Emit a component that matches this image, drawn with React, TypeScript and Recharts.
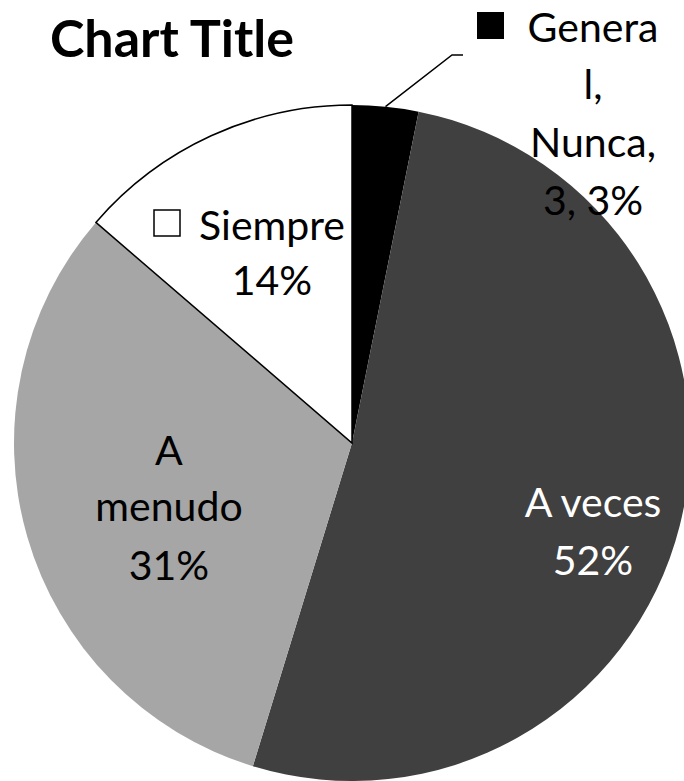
import React from "react";
import { PieChart, Pie, Cell, Customized } from "recharts";

const categories = ["General, Nunca", "A veces", "A menudo", "Siempre"];
const values = [3, 49, 30, 13];
const pctLabels = ["3%", "52%", "31%", "14%"];
const colors = ["#000000", "#404040", "#a6a6a6", "#ffffff"];
const chartTitle = "Chart Title";

const data = categories.map((name, i) => ({ name, value: values[i] }));

const FONT = "Lato, 'Open Sans', sans-serif";
const FS = 41;
const RADIAN = Math.PI / 180;

// label text lines per slice (offsets relative to pie centre)
const labelLayout = [
  {
    lines: ["Genera", "l,", "Nunca,", `${values[0]}, ${pctLabels[0]}`],
    dx: 241, dy: [-401, -344, -286, -228], color: "#000",
  },
  { lines: ["A veces", pctLabels[1]], dx: 241, dy: [74, 132], color: "#fff" },
  { lines: ["A", "menudo", pctLabels[2]], dx: -183, dy: [22, 78, 137], color: "#000" },
  { lines: ["Siempre", pctLabels[3]], dx: -80, dy: [-203, -148], color: "#000" },
];

const renderLabel = (props: any) => {
  const { cx, cy, midAngle, outerRadius, index } = props;
  const lay = labelLayout[index];
  const texts = lay.lines.map((t: string, k: number) => (
    <text
      key={k}
      x={cx + lay.dx}
      y={cy + lay.dy[k]}
      textAnchor="middle"
      fill={lay.color}
      fontFamily={FONT}
      fontSize={FS}
    >
      {t}
    </text>
  ));
  let extra: React.ReactNode = null;
  if (index === 0) {
    const sx = cx + outerRadius * Math.cos(-midAngle * RADIAN);
    const sy = cy + outerRadius * Math.sin(-midAngle * RADIAN);
    extra = (
      <g>
        <polyline
          points={`${sx},${sy} ${cx + 100},${cy - 388} ${cx + 111},${cy - 388}`}
          fill="none"
          stroke="#000"
          strokeWidth={1.5}
        />
        <rect x={cx + 125} y={cy - 431} width={27} height={27} fill="#000" />
      </g>
    );
  }
  if (index === 3) {
    extra = (
      <rect
        x={cx - 198}
        y={cy - 233}
        width={26}
        height={26}
        fill="#fff"
        stroke="#000"
        strokeWidth={1.5}
      />
    );
  }
  return (
    <g>
      {extra}
      {texts}
    </g>
  );
};

const Title = () => (
  <text
    x={172}
    y={57}
    textAnchor="middle"
    fontFamily={FONT}
    fontWeight="bold"
    fontSize={52}
    fill="#000"
  >
    {chartTitle}
  </text>
);

export default function App() {
  return (
    <div style={{ position: "absolute", left: 0, top: 0, background: "#fff" }}>
      <PieChart width={684} height={781} margin={{ top: 0, right: 0, bottom: 0, left: 0 }}>
        <Pie
          data={data}
          dataKey="value"
          nameKey="name"
          cx={352}
          cy={443}
          outerRadius={338}
          startAngle={90}
          endAngle={-270}
          isAnimationActive={false}
          label={renderLabel}
          labelLine={false}
          stroke="none"
        >
          {data.map((d, i) => (
            <Cell
              key={d.name}
              fill={colors[i]}
              stroke={i === 3 ? "#000" : "none"}
              strokeWidth={i === 3 ? 1.5 : 0}
            />
          ))}
        </Pie>
        <Customized component={Title} />
      </PieChart>
    </div>
  );
}
